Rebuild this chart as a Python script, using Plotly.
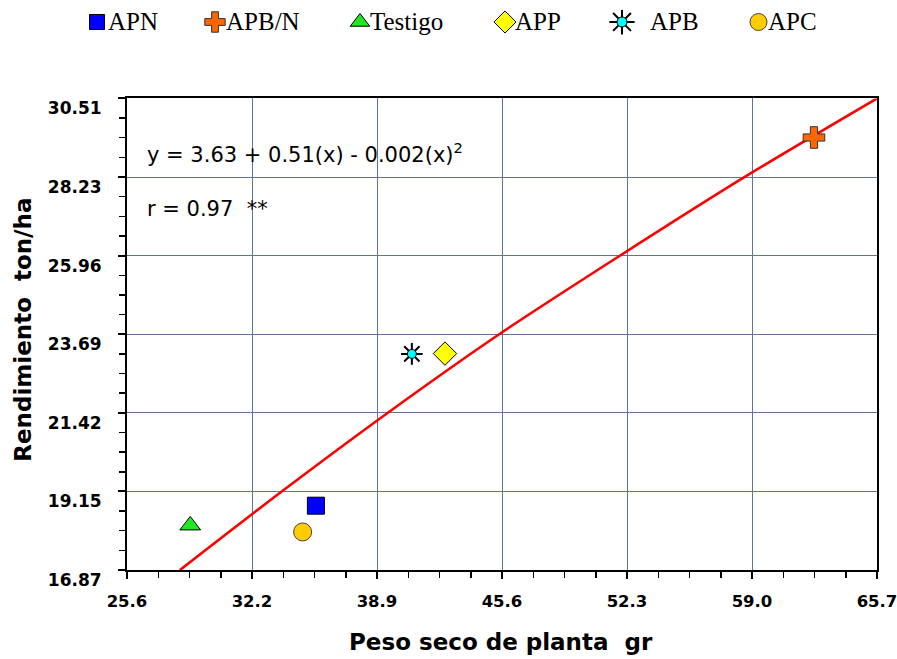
import numpy as np
import plotly.graph_objects as go

# ---------------- data ----------------
names = ["APN", "APB/N", "Testigo", "APP", "APB", "APC"]
peso_seco = [35.70, 62.33, 28.98, 42.60, 40.83, 34.99]
rendimiento = [18.73, 29.38, 18.16, 23.13, 23.12, 17.97]

# fitted curve (grid crossings)
curve_x = [28.43, 33.87, 39.55, 45.50, 51.95, 58.63, 65.70]
curve_y = [16.87, 19.14, 21.42, 23.69, 25.96, 28.24, 30.51]

x_tick_labels = ["25.6", "32.2", "38.9", "45.6", "52.3", "59.0", "65.7"]
y_tick_labels = ["16.87", "19.15", "21.42", "23.69", "25.96", "28.23", "30.51"]
x_range = [25.6, 65.7]
y_range = [16.87, 30.51]

equation_text = "y = 3.63 + 0.51(x) - 0.002(x)<sup>2</sup>"
r_text = "r = 0.97\u00a0 **"
x_title = "Peso seco de planta\u00a0 gr"
y_title = "Rendimiento\u00a0 ton/ha"

# ---------------- styles ----------------
marker_styles = {
    "APN": dict(symbol="square", size=17, color="#0000FF", line=dict(color="#000000", width=1)),
    "APB/N": dict(symbol="cross", size=18, color="#FF6600", line=dict(color="#333333", width=1)),
    "Testigo": dict(symbol="triangle-up", size=18, color="#22E622", line=dict(color="#000000", width=1)),
    "APP": dict(symbol="diamond", size=18, color="#FFFF00", line=dict(color="#000000", width=1)),
    "APB": dict(symbol="circle", size=9, color="#00FFFF", line=dict(color="#000000", width=1)),
    "APC": dict(symbol="circle", size=18, color="#FFCC00", line=dict(color="#444444", width=1)),
}
legend_sizes = {"APN": 15, "APB/N": 17, "Testigo": 17, "APP": 17, "APB": 10, "APC": 17}

OFF = 0                      # page offset (body margin removed below)
W, H = 897 - OFF, 659 - OFF  # figure size
L, R, T, B = 80, 20, 10, 88.5
pw, ph = W - L - R, H - T - B


def px_x(p):
    """screen pixel x -> paper x"""
    return (p - OFF - L) / pw


def px_y(p):
    """screen pixel y -> paper y"""
    return (H - B - (p - OFF)) / ph


# legend layout (screen pixel positions)
legend_marker_x = [97, 215, 360, 505, 622, 758.5]
legend_text_x = [106, 224, 368, 513, 648, 766]
legend_y = 22

fig = go.Figure()

# fitted curve
fig.add_trace(go.Scatter(x=curve_x, y=curve_y, mode="lines",
                         line=dict(color="#FF0000", width=2.6, shape="spline", smoothing=0.8),
                         showlegend=False, hoverinfo="skip"))

# data points
for n, xv, yv in zip(names, peso_seco, rendimiento):
    if n == "APB":
        fig.add_trace(go.Scatter(x=[xv], y=[yv], mode="markers",
                                 marker=dict(symbol="asterisk", size=18,
                                             line=dict(color="#000000", width=2)),
                                 showlegend=False))
    fig.add_trace(go.Scatter(x=[xv], y=[yv], mode="markers", name=n,
                             marker=marker_styles[n], showlegend=False))

# custom legend on a pixel-like axis pair
for i, n in enumerate(names):
    st = dict(marker_styles[n])
    st["size"] = legend_sizes[n]
    if n == "APB":
        fig.add_trace(go.Scatter(x=[legend_marker_x[i]], y=[legend_y], mode="markers",
                                 xaxis="x2", yaxis="y2",
                                 marker=dict(symbol="asterisk", size=21,
                                             line=dict(color="#000000", width=2)),
                                 showlegend=False, hoverinfo="skip"))
    fig.add_trace(go.Scatter(x=[legend_marker_x[i]], y=[legend_y], mode="markers",
                             xaxis="x2", yaxis="y2", marker=st,
                             showlegend=False, hoverinfo="skip"))
    fig.add_annotation(x=legend_text_x[i], y=legend_y, xref="x2", yref="y2",
                       text=n, showarrow=False, xanchor="left", yanchor="middle",
                       font=dict(family="Liberation Serif", size=25, color="#000000"))

step_x = (x_range[1] - x_range[0]) / 6
step_y = (y_range[1] - y_range[0]) / 6
x_tickvals = list(np.linspace(x_range[0], x_range[1], len(x_tick_labels)))
y_tickvals = list(np.linspace(y_range[0], y_range[1], len(y_tick_labels)))

grid_color = "#61739a"
y_tick_font = dict(family="DejaVu Sans", size=17, color="#000000", weight="bold")
x_tick_font = dict(family="DejaVu Sans", size=16.5, color="#000000", weight="bold")

fig.update_layout(
    width=W, height=H,
    margin=dict(l=L, r=R, t=T, b=B, autoexpand=False),
    paper_bgcolor="white", plot_bgcolor="white",
    showlegend=False,
    hovermode=False,
    xaxis=dict(domain=[px_x(127), px_x(877)], range=x_range, anchor="y", automargin=False,
               tickmode="array", tickvals=x_tickvals, ticktext=x_tick_labels,
               showgrid=True, gridcolor=grid_color, gridwidth=1, zeroline=False,
               showline=True, linecolor="#000000", linewidth=2, mirror=True,
               ticks="outside", ticklen=7, tickwidth=2, tickcolor="#000000",
               tickfont=x_tick_font, ticklabelstandoff=8, ticklabeloverflow="allow",
               minor=dict(tick0=x_range[0], dtick=step_x / 4, ticks="outside",
                          ticklen=6, tickwidth=1.5, tickcolor="#000000", showgrid=False)),
    yaxis=dict(domain=[px_y(570.5), px_y(98.5)], range=y_range, anchor="x", automargin=False,
               tickmode="array", tickvals=y_tickvals, ticktext=y_tick_labels,
               showgrid=True, gridcolor=grid_color, gridwidth=1, zeroline=False,
               showline=True, linecolor="#000000", linewidth=2, mirror=True,
               ticks="outside", ticklen=7, tickwidth=2, tickcolor="#000000",
               tickfont=y_tick_font, ticklabelstandoff=13, ticklabelshift=10,
               ticklabeloverflow="allow",
               minor=dict(tick0=y_range[0], dtick=step_y / 4, ticks="outside",
                          ticklen=6, tickwidth=1.5, tickcolor="#000000", showgrid=False)),
    xaxis2=dict(domain=[0, 1], range=[L + OFF, L + OFF + pw], anchor="y2",
                visible=False, fixedrange=True, automargin=False),
    yaxis2=dict(domain=[px_y(78), 1], range=[78, T + OFF], anchor="x2",
                visible=False, fixedrange=True, automargin=False),
)

# equation annotations
fig.add_annotation(x=px_x(145), y=px_y(153), xref="paper", yref="paper", text=equation_text,
                   showarrow=False, xanchor="left", yanchor="middle",
                   font=dict(family="DejaVu Sans", size=21, color="#000000"))
fig.add_annotation(x=px_x(145), y=px_y(209), xref="paper", yref="paper", text=r_text,
                   showarrow=False, xanchor="left", yanchor="middle",
                   font=dict(family="DejaVu Sans", size=21, color="#000000"))

# axis titles
fig.add_annotation(x=px_x(501), y=px_y(643), xref="paper", yref="paper", text=x_title,
                   showarrow=False, xanchor="center", yanchor="middle",
                   font=dict(family="DejaVu Sans", size=23, color="#000000", weight="bold"))
fig.add_annotation(x=px_x(23), y=px_y(330), xref="paper", yref="paper", text=y_title,
                   showarrow=False, xanchor="center", yanchor="middle", textangle=-90,
                   font=dict(family="DejaVu Sans", size=23, color="#000000", weight="bold"))

fig.write_html("out.html",
               config={"displayModeBar": False, "staticPlot": True},
               post_script="document.body.style.margin='0';"
                           "document.body.style.overflow='hidden';")
